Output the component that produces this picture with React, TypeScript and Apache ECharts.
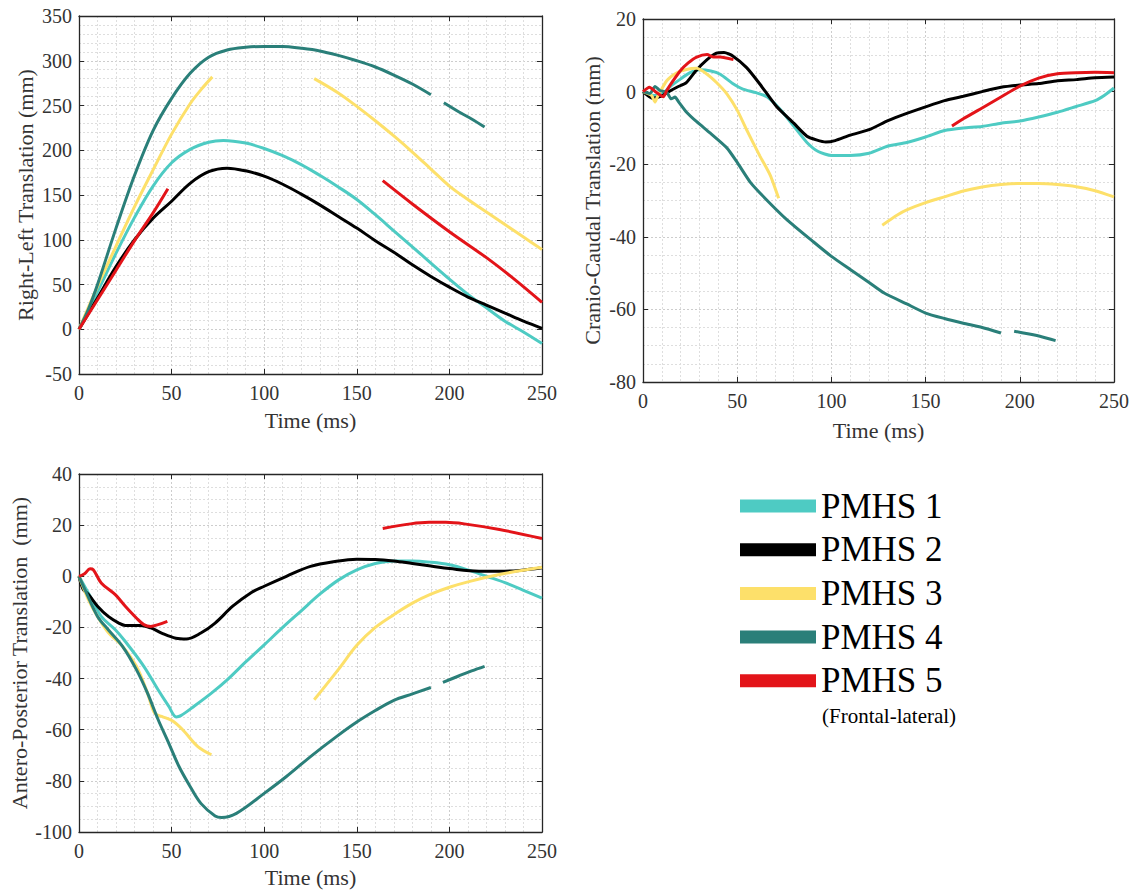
import React, { useEffect, useRef } from "react";
import * as echarts from "echarts";

const FONT = "'Liberation Serif', 'Times New Roman', serif";

const names = ["PMHS 1", "PMHS 2", "PMHS 3", "PMHS 4", "PMHS 5"];
const colors = ["#4ECBC3", "#000000", "#FDE06A", "#2A7F79", "#E31419"];

// Right-Left translation (mm) vs time (ms)
const rl1 = [[0,0],[10,42],[20,85],[30,125],[40,160],[50,186],[60,201],[70,209],[78,211],[90,208],[100,202],[110,194],[120,184],[130,172],[140,159],[150,145],[160,128],[170,110],[180,92],[190,74],[200,56],[210,39],[220,24],[230,9],[240,-3],[250,-16]];
const rl2 = [[0,0],[10,35],[20,70],[30,100],[40,124],[50,143],[60,163],[70,176],[80,180],[90,177],[100,171],[110,162],[120,151],[130,139],[140,126],[150,113],[160,99],[170,86],[180,72],[190,59],[200,47],[210,36],[220,27],[230,18],[240,9],[250,1]];
const rl3a = [[0,0],[10,48],[20,93],[30,137],[40,178],[50,218],[60,252],[66,268],[72,282]];
const rl3b = [[127,280],[140,264],[150,249],[160,233],[170,216],[180,198],[190,179],[200,160],[210,145],[220,131],[230,117],[240,103],[250,89]];
const rl4a = [[0,0],[5,22],[10,50],[20,113],[30,172],[40,222],[50,258],[60,286],[70,304],[80,312],[90,315],[100,316],[110,316],[120,314],[130,311],[140,306],[150,300],[160,293],[170,284],[180,274],[190,262]];
const rl4b = [[197,253],[205,243],[212,235],[219,226]];
const rl5a = [[0,0],[10,33],[20,66],[30,99],[40,130],[48,157]];
const rl5b = [[164,166],[180,140],[200,109],[220,80],[235,56],[250,30]];

// Cranio-Caudal translation (mm)
const cc1 = [[0,0],[5,-1],[9,-1.1],[14,1.2],[20,3.5],[25,5.2],[30,6],[36,5.7],[41,4.8],[48,2.1],[53,0.7],[60,-0.3],[66,-1.5],[73,-5],[80,-9.5],[87,-14],[93,-16.5],[100,-17.6],[110,-17.6],[120,-17],[130,-15],[140,-14],[150,-12.5],[160,-10.7],[170,-10],[180,-9.6],[190,-8.7],[200,-8.1],[210,-7],[220,-5.7],[230,-4.1],[240,-2.5],[245,-1],[250,1]];
const cc2 = [[0,0],[5,-1.8],[9,-1.4],[13,-0.2],[18,1.2],[23,2.5],[28,5.7],[34,8.8],[39,10.6],[43,10.8],[48,9.7],[55,6.6],[62,2.1],[71,-4.2],[80,-8.7],[87,-12.3],[92,-13.3],[97,-13.9],[102,-13.5],[110,-12],[120,-10.5],[130,-8],[140,-6],[150,-4.2],[160,-2.5],[170,-1.3],[180,0],[190,1.2],[200,1.8],[210,2.2],[220,3],[230,3.3],[240,3.8],[250,4]];
const cc3a = [[0,0],[4.6,-1.1],[6.4,-2.9],[7.6,-1.5],[12.6,3],[18,5.2],[23,6.1],[28.5,6.4],[34,4.8],[39,2.5],[44.5,-0.6],[50,-5.1],[55,-10.5],[62,-17.7],[67.5,-23],[72,-29.4]];
const cc3b = [[127,-36.8],[135,-34],[140,-32.6],[150,-30.6],[160,-29],[170,-27.4],[180,-26.3],[190,-25.6],[200,-25.3],[210,-25.3],[220,-25.6],[230,-26.2],[240,-27.3],[250,-29]];
const cc4a = [[0,0],[3.7,-0.5],[6.4,1.4],[9,0.3],[12.6,-0.2],[15,-2],[17,-1.5],[19,-2.9],[23,-5.6],[28.5,-8.3],[35.6,-11.4],[44.5,-15.5],[50,-19.5],[57,-25],[65,-29.5],[76.6,-35.4],[90,-41.2],[100,-45.4],[110,-49],[120,-52.6],[128,-55.5],[140,-58.5],[150,-61],[160,-62.5],[170,-63.8],[180,-65],[190,-66.5]];
const cc4b = [[197,-66],[205,-66.8],[212,-67.6],[219,-68.6]];
const cc5a = [[0,0],[3.4,1.2],[7,-0.2],[10.8,-1.4],[12.6,0.3],[16,3],[19.7,5.7],[24,7.9],[28.5,9.5],[34,10.2],[37.4,9.5],[41,9.5],[48,8.8]];
const cc5b = [[164,-9.5],[170,-7.5],[180,-4.5],[190,-1.5],[200,1.5],[210,3.7],[220,4.9],[230,5.2],[240,5.3],[250,5.2]];

// Antero-Posterior translation (mm)
const ap1 = [[0,0],[6,-7.8],[12,-15.7],[19.6,-20.9],[25,-25.5],[35,-35.2],[42.7,-44.4],[48.5,-50.9],[52.5,-55],[55,-54.5],[62,-50.9],[71.5,-45.7],[80,-40.5],[90,-33.5],[100,-26.8],[110,-20],[120,-13.5],[130,-7],[140,-1.5],[150,2.5],[160,5],[170,6],[180,6],[190,5.5],[200,4.5],[210,2.5],[220,0],[230,-2.5],[240,-5.5],[250,-8.5]];
const ap2 = [[0,0],[2.3,-5.2],[5,-7],[10,-11.7],[15.8,-15.7],[21.5,-18.3],[25,-19.2],[33,-19.2],[38.8,-20.2],[44.6,-22.2],[52.3,-24.2],[58,-24.5],[65.8,-22.2],[73.5,-18.3],[83,-11.7],[92.7,-6.5],[100,-3.9],[112,0],[125,3.9],[139,5.9],[150,6.7],[160,6.6],[170,6],[180,5],[190,4],[200,3],[216,2],[227,2],[238,2.3],[250,3.3]];
const ap3a = [[0,0],[5,-9],[10,-15.7],[15.8,-22],[23.5,-27.4],[31,-35.2],[37,-45.7],[40.8,-53.5],[44.6,-54.8],[50.4,-56.5],[56,-60],[64,-66.5],[71.5,-69.8]];
const ap3b = [[127,-48.3],[140,-36.5],[150,-27],[160,-20],[170,-15],[180,-10.5],[190,-7],[200,-4.3],[210,-2.2],[227,0.7],[250,3.5]];
const ap4a = [[0,0],[4,-6.5],[10,-15.7],[15.8,-20.9],[23.5,-27.4],[31,-36.5],[37,-45.7],[42.7,-56],[48.5,-65.3],[54,-74.4],[60,-82.2],[65.8,-88.8],[73.5,-93.7],[77,-94.3],[85,-92.7],[100,-84.9],[112,-78.3],[125,-70.5],[139,-62.7],[150,-57],[160,-52.5],[170,-48.5],[180,-46],[190,-43.5]];
const ap4b = [[196.5,-41.5],[205,-39],[212,-37],[219,-35.2]];
const ap5a = [[0,0],[3,1],[6,2.9],[7.7,2.6],[12,-2.6],[19.6,-7.2],[25,-11.7],[31,-16.3],[35,-18.9],[38.8,-19.6],[42.7,-18.9],[47.7,-17.6]];
const ap5b = [[164,18.7],[179,20.5],[189,21.1],[198,21.1],[208,20.5],[227,18.3],[250,14.8]];

const panels = [
  { yName: "Right-Left Translation (mm)", yMin: -50, yMax: 350, yInt: 50, yMinor: 5, yGap: 43, xGap: 35,
    sets: [[rl1], [rl2], [rl3a, rl3b], [rl4a, rl4b], [rl5a, rl5b]] },
  { yName: "Cranio-Caudal Translation (mm)", yMin: -80, yMax: 20, yInt: 20, yMinor: 4, yGap: 40, xGap: 37,
    sets: [[cc1], [cc2], [cc3a, cc3b], [cc4a, cc4b], [cc5a, cc5b]] },
  { yName: "Antero-Posterior Translation  (mm)", yMin: -100, yMax: 40, yInt: 20, yMinor: 4, yGap: 49, xGap: 34,
    sets: [[ap1], [ap2], [ap3a, ap3b], [ap4a, ap4b], [ap5a, ap5b]] },
];

const grids = [
  { left: 79, top: 16, width: 463, height: 358 },
  { left: 643, top: 19, width: 471, height: 363 },
  { left: 79, top: 474, width: 463, height: 358 },
];

const AX = "#262626";

export default function App() {
  const ref = useRef<HTMLDivElement>(null);
  useEffect(() => {
    if (!ref.current) return;
    const chart = echarts.init(ref.current, null, { renderer: "svg" });
    const xAxis: any[] = [];
    const yAxis: any[] = [];
    const series: any[] = [];
    panels.forEach((p, gi) => {
      const common = { type: "value", gridIndex: gi };
      xAxis.push({
        ...common, min: 0, max: 250, interval: 50, position: "bottom",
        name: "Time (ms)", nameLocation: "middle", nameGap: p.xGap,
        nameTextStyle: { fontFamily: FONT, fontSize: 22, color: "#333" },
        axisLine: { show: true, onZero: false, lineStyle: { color: AX, width: 1.3 } },
        axisTick: { show: true, inside: true, length: 5, lineStyle: { color: AX } },
        axisLabel: { fontFamily: FONT, fontSize: 20, color: "#333", margin: 9 },
        splitLine: { show: true, lineStyle: { type: [2, 2], color: "#cdcdcd", width: 1 } },
        minorTick: { show: false, splitNumber: 5 },
        minorSplitLine: { show: true, lineStyle: { type: [2, 2], color: "#dedede", width: 1 } },
      });
      xAxis.push({
        ...common, min: 0, max: 250, interval: 50, position: "top",
        axisLine: { show: true, onZero: false, lineStyle: { color: AX, width: 1.3 } },
        axisTick: { show: true, inside: true, length: 5, lineStyle: { color: AX } },
        axisLabel: { show: false }, splitLine: { show: false },
      });
      yAxis.push({
        ...common, min: p.yMin, max: p.yMax, interval: p.yInt, position: "left",
        name: p.yName, nameLocation: "middle", nameGap: p.yGap,
        nameTextStyle: { fontFamily: FONT, fontSize: 22, color: "#333" },
        axisLine: { show: true, onZero: false, lineStyle: { color: AX, width: 1.3 } },
        axisTick: { show: true, inside: true, length: 5, lineStyle: { color: AX } },
        axisLabel: { fontFamily: FONT, fontSize: 20, color: "#333", margin: 7 },
        splitLine: { show: true, lineStyle: { type: [2, 2], color: "#cdcdcd", width: 1 } },
        minorTick: { show: false, splitNumber: p.yMinor },
        minorSplitLine: { show: true, lineStyle: { type: [2, 2], color: "#dedede", width: 1 } },
      });
      yAxis.push({
        ...common, min: p.yMin, max: p.yMax, interval: p.yInt, position: "right",
        axisLine: { show: true, onZero: false, lineStyle: { color: AX, width: 1.3 } },
        axisTick: { show: true, inside: true, length: 5, lineStyle: { color: AX } },
        axisLabel: { show: false }, splitLine: { show: false },
      });
      p.sets.forEach((segs, si) => {
        segs.forEach((seg) => {
          series.push({
            type: "line", name: names[si], data: seg,
            xAxisIndex: gi * 2, yAxisIndex: gi * 2,
            showSymbol: false, smooth: gi === 1 ? 0.2 : 0.35,
            lineStyle: { color: colors[si], width: 3 },
            itemStyle: { color: colors[si] },
            z: 2 + si, clip: true,
          });
        });
      });
    });
    chart.setOption({
      animation: false,
      backgroundColor: "#ffffff",
      grid: grids,
      xAxis, yAxis, series,
      legend: {
        data: names, orient: "vertical", left: 735, top: 483,
        icon: "rect", itemWidth: 76, itemHeight: 13, itemGap: 7.7,
        selectedMode: false,
        textStyle: { fontFamily: FONT, fontSize: 35, color: "#000", lineHeight: 36 },
      },
      graphic: [{
        type: "text", left: 822, top: 705,
        style: { text: "(Frontal-lateral)", font: `21px ${FONT}`, fill: "#000" },
      }],
    });
    return () => chart.dispose();
  }, []);
  return <div ref={ref} style={{ position: "absolute", left: 0, top: 0, width: 1138, height: 891 }} />;
}
